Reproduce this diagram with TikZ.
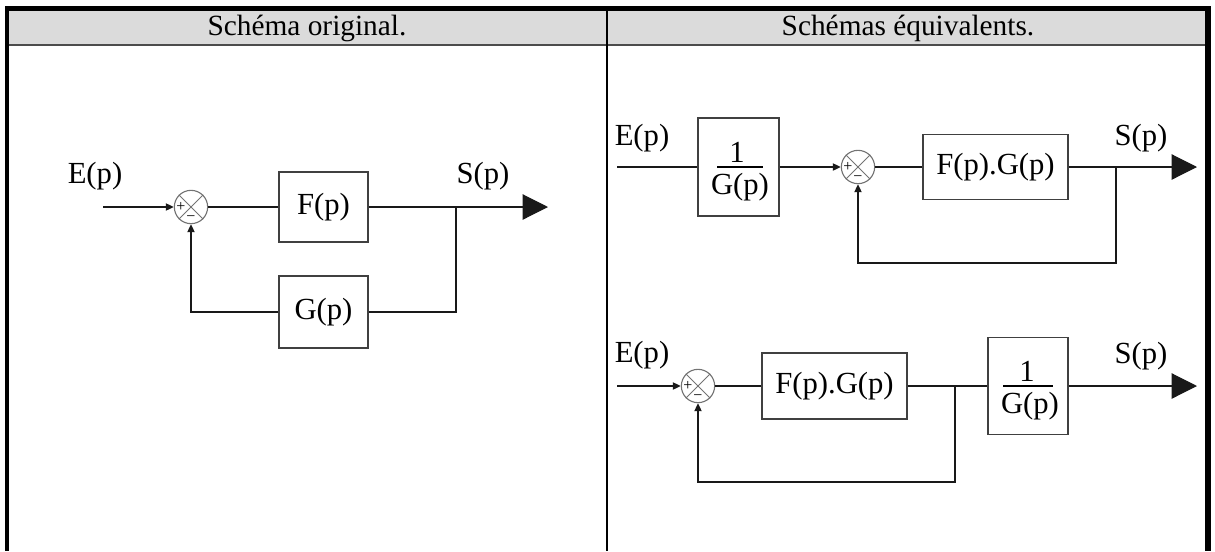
\documentclass[tikz,border=0pt]{standalone}
\usepackage{fontspec}
\setmainfont{Liberation Serif}
\usetikzlibrary{arrows.meta}

% X cross and the two signs inside a summing junction
\newcommand{\sumsign}[1]{%
  \draw[cross] (#1.45) -- (#1.225) (#1.135) -- (#1.315);
  \node[sgn] at ([xshift=-7.5pt]#1.center) {+};
  \node[sgn] at ([yshift=-8.5pt]#1.center) {−};
}

\begin{document}
\begin{tikzpicture}[x=0.75pt,y=-0.75pt,
  txt/.style={inner sep=0pt, font=\fontsize{23}{27}\selectfont},
  head/.style={inner sep=0pt, font=\fontsize{22}{26}\selectfont},
  blk/.style={draw=black!75, line width=0.85pt, inner sep=0pt, font=\fontsize{23}{27}\selectfont},
  wire/.style={line width=0.85pt, black!90},
  sumj/.style={circle, draw=black!55, line width=0.85pt, minimum size=25pt, inner sep=0pt},
  cross/.style={draw=black!55, line width=0.75pt},
  sgn/.style={inner sep=0pt, font=\fontsize{12}{12}\selectfont},
  into/.style={wire, -{Triangle[length=6pt,width=5.5pt]}},
  outarr/.style={wire, -{Triangle[length=19pt,width=19pt]}},
  fracbar/.style={line width=0.8pt, black},
]
\useasboundingbox (0,0) rectangle (1215,551);

% ---- table frame ----
\fill[fill=black!14] (9,11) rectangle (1205,45);
\draw[line width=1.5pt, black!70] (9,45) -- (1205,45);
\draw[line width=1.5pt, black] (607,11) -- (607,551);
\draw[line width=3pt, black] (7,6) -- (7,551);
\draw[line width=3.75pt, black] (5,8.5) -- (1211,8.5);
\draw[line width=4.5pt, black] (1208,6) -- (1208,551);
\node[head] (h1) at (307,28) {Schéma original.};
\node[head] (h2) at (908,28) {Schémas équivalents.};

% ---- original loop ----
\node[txt] (e1) at (95,176) {E(p)};
\node[txt] (s1lbl) at (483,176) {S(p)};
\coordinate (in1) at (103,207);
\node[sumj] (s1) at (191,207) {};
\sumsign{s1}
\node[blk, minimum width=66.75pt, minimum height=52.5pt] (F) at (323.5,207) {F(p)};
\node[blk, minimum width=66.75pt, minimum height=54pt] (G) at (323.5,312) {G(p)};
\coordinate (b1) at (456,207);
\coordinate (o1) at (548,207);
\draw[into] (in1) -- (s1.west);
\draw[wire] (s1.east) -- (F.west);
\draw[wire] (F.east) -- (b1);
\draw[outarr] (b1) -- (o1);
\draw[wire] (b1) |- (G.east);
\draw[into] (G.west) -| (s1.south);

% ---- equivalent loop, prefilter ----
\node[txt] (e2) at (642,138) {E(p)};
\node[txt] (s2lbl) at (1141,138) {S(p)};
\coordinate (in2) at (617,167);
\node[blk, minimum width=60.75pt, minimum height=73.5pt] (g1) at (738.5,167) {};
\node[txt, anchor=base] (g1n) at (737,162) {1};
\node[txt, anchor=base] (g1d) at (740,194) {G(p)};
\draw[fracbar] (717,167) -- (763,167);
\node[sumj] (s2) at (858,167) {};
\sumsign{s2}
\node[blk, minimum width=108.75pt, minimum height=48.75pt] (FG1) at (995.5,167) {F(p).G(p)};
\coordinate (b2) at (1116,167);
\coordinate (c2) at (1116,263);
\coordinate (o2) at (1197,167);
\draw[wire] (in2) -- (g1.west);
\draw[into] (g1.east) -- (s2.west);
\draw[wire] (s2.east) -- (FG1.west);
\draw[wire] (FG1.east) -- (b2);
\draw[outarr] (b2) -- (o2);
\draw[into] (b2) -- (c2) -| (s2.south);

% ---- equivalent loop, postfilter ----
\node[txt] (e3) at (642,355) {E(p)};
\node[txt] (s3lbl) at (1141,356) {S(p)};
\coordinate (in3) at (617,386);
\node[sumj] (s3) at (698,386) {};
\sumsign{s3}
\node[blk, minimum width=108.75pt, minimum height=49.5pt] (FG2) at (834.5,386) {F(p).G(p)};
\coordinate (b3) at (955,386);
\coordinate (c3) at (955,482);
\node[blk, minimum width=60pt, minimum height=72.75pt] (g2) at (1028,386) {};
\node[txt, anchor=base] (g2n) at (1027,381) {1};
\node[txt, anchor=base] (g2d) at (1030,413) {G(p)};
\draw[fracbar] (1003,386) -- (1053,386);
\coordinate (o3) at (1197,386);
\draw[into] (in3) -- (s3.west);
\draw[wire] (s3.east) -- (FG2.west);
\draw[wire] (FG2.east) -- (b3) -- (g2.west);
\draw[outarr] (g2.east) -- (o3);
\draw[into] (b3) -- (c3) -| (s3.south);
\end{tikzpicture}
\end{document}
